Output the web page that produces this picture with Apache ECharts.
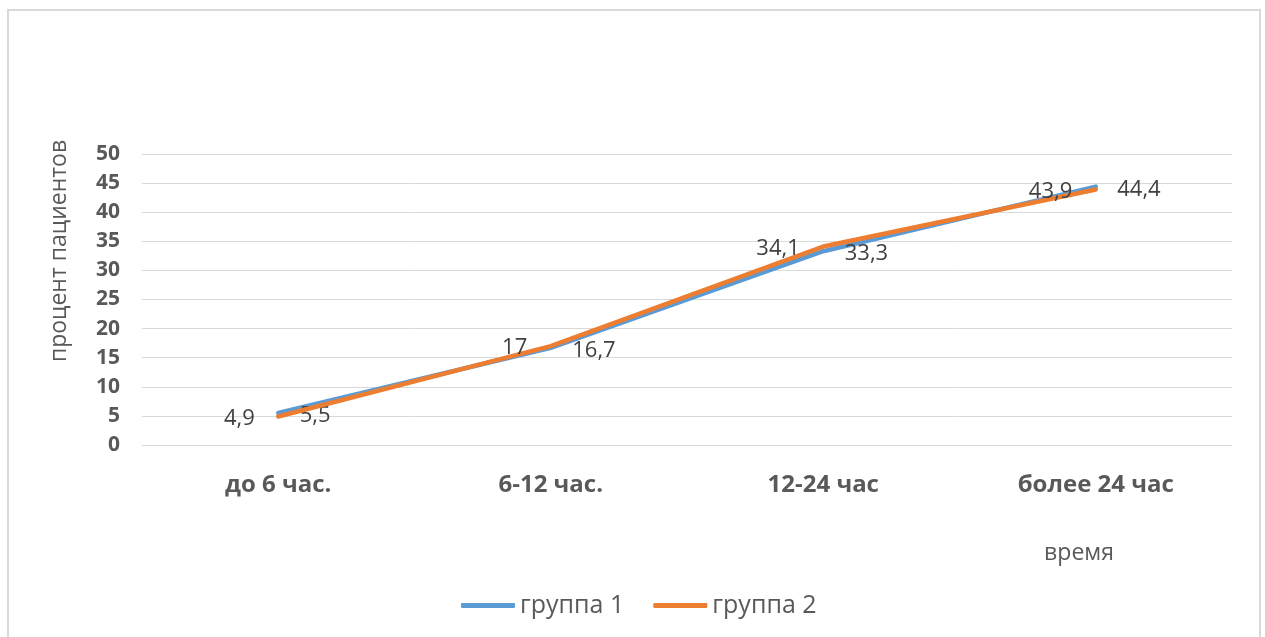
<!DOCTYPE html>
<html>
<head>
<meta charset="utf-8">
<script src="https://cdn.jsdelivr.net/npm/echarts@6/dist/echarts.min.js"></script>
<style>
  html, body { margin: 0; padding: 0; background: #fff; }
  #chart { width: 1265px; height: 637px; }
</style>
</head>
<body>
<div id="chart"></div>
<script>
// Time to admission categories and share of patients per group
const categories = ['до 6 час.', '6-12 час.', '12-24 час', 'более 24 час'];
const group1 = [5.5, 16.7, 33.3, 44.4];
const group2 = [4.9, 17, 34.1, 43.9];
const seriesNames = ['группа 1', 'группа 2'];
const seriesColors = ['#5B9BD5', '#ED7D31'];

const FONT = '"Open Sans", "Noto Sans", sans-serif';
const fmt = p => String(p.value).replace('.', ',');

const chart = echarts.init(document.getElementById('chart'), null, { renderer: 'canvas' });

chart.setOption({
  animation: false,
  backgroundColor: '#fff',
  textStyle: { fontFamily: FONT },
  grid: { left: 142, right: 33, top: 154, bottom: 192, containLabel: false },
  legend: {
    data: seriesNames.map((name, i) => ({
      name,
      itemStyle: { color: seriesColors[i], opacity: 1 }
    })),
    top: 588,
    left: 456,
    itemWidth: 54,
    itemHeight: 5,
    itemGap: 29,
    icon: 'roundRect',
    textStyle: { color: '#595959', fontSize: 25, fontFamily: FONT }
  },
  xAxis: {
    type: 'category',
    data: categories,
    boundaryGap: true,
    axisLine: { show: false },
    axisTick: { show: false },
    axisLabel: { color: '#595959', fontSize: 24, fontWeight: 'bold', margin: 28, fontFamily: FONT }
  },
  yAxis: {
    type: 'value',
    min: 0,
    max: 50,
    interval: 5,
    axisLine: { show: false },
    axisTick: { show: false },
    splitLine: { lineStyle: { color: '#d9d9d9', width: 1 } },
    axisLabel: { color: '#595959', fontSize: 21, fontWeight: 'bold', margin: 22, fontFamily: FONT }
  },
  graphic: [
    {
      type: 'rect',
      shape: { x: 8, y: 10, width: 1252, height: 640 },
      style: { fill: 'none', stroke: '#d9d9d9', lineWidth: 2 },
      silent: true
    },
    {
      type: 'text',
      x: 59, y: 251,
      rotation: Math.PI / 2,
      style: {
        text: 'процент пациентов',
        fill: '#595959',
        font: '23px ' + FONT,
        textAlign: 'center',
        textVerticalAlign: 'middle'
      }
    },
    {
      type: 'text',
      x: 1079, y: 553,
      style: {
        text: 'время',
        fill: '#595959',
        font: '23px ' + FONT,
        textAlign: 'center',
        textVerticalAlign: 'middle'
      }
    }
  ],
  series: [
    {
      name: seriesNames[0],
      type: 'line',
      data: group1,
      symbol: 'circle',
      symbolSize: 1,
      showSymbol: true,
      lineStyle: { color: seriesColors[0], width: 4.5, cap: 'round', join: 'round' },
      itemStyle: { color: 'rgba(91,155,213,0)' },
      label: {
        show: true, position: 'right', distance: 21, offset: [0, 3],
        color: '#404040', fontSize: 22, fontFamily: FONT, formatter: fmt
      },
      z: 2
    },
    {
      name: seriesNames[1],
      type: 'line',
      data: group2,
      symbol: 'circle',
      symbolSize: 1,
      showSymbol: true,
      lineStyle: { color: seriesColors[1], width: 4.5, cap: 'round', join: 'round' },
      itemStyle: { color: 'rgba(237,125,49,0)' },
      label: {
        show: true, position: 'left', distance: 23, offset: [0, 2],
        color: '#404040', fontSize: 22, fontFamily: FONT, formatter: fmt
      },
      z: 3
    }
  ]
});
</script>
</body>
</html>
